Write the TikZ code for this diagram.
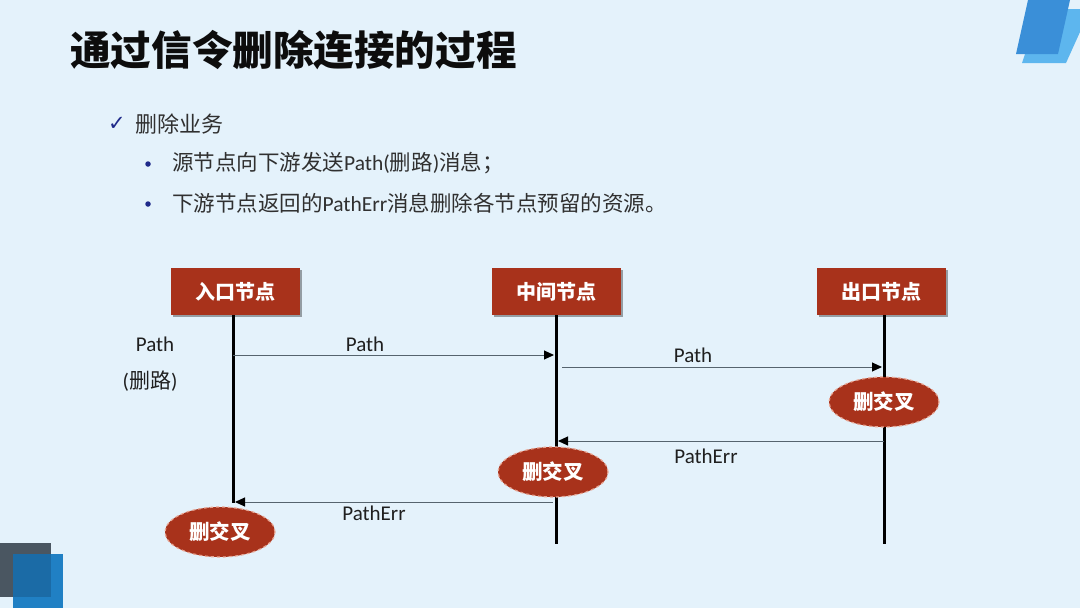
\documentclass[tikz,border=0pt]{standalone}
\usepackage{fontspec}
\setmainfont{Carlito}
\newfontfamily\cjk{Noto Sans CJK SC}
\newfontfamily\sym{DejaVu Sans}
\usetikzlibrary{shapes.geometric,arrows.meta,shadows}
\definecolor{bgblue}{HTML}{E4F2FB}
\definecolor{nodered}{HTML}{A8321B}
\definecolor{edgepink}{HTML}{E9A592}
\definecolor{msggray}{HTML}{56646E}
\definecolor{bulletblue}{HTML}{1F2A8A}
\definecolor{bodytext}{HTML}{303030}
\definecolor{decodark}{HTML}{3A8FD8}
\definecolor{decolight}{HTML}{5DB6EE}
\definecolor{decogray}{HTML}{4A5661}
\definecolor{decoblue}{HTML}{2080C4}
\definecolor{decoover}{HTML}{1B6BA6}
\begin{document}
\begin{tikzpicture}[x=1pt,y=-1pt,
  hdr/.style={fill=nodered, text=white, minimum width=129pt, minimum height=47pt, inner sep=0pt,
    font=\cjk\bfseries\fontsize{20}{24}\selectfont,
    drop shadow={shadow xshift=2pt,shadow yshift=-2pt,opacity=0.35,fill=black}},
  del/.style={ellipse, fill=nodered, draw=edgepink, dashed, line width=1.2pt, text=white,
    minimum width=110pt, minimum height=50pt, inner sep=0pt,
    font=\cjk\bfseries\fontsize{20.5}{24}\selectfont},
  life/.style={line width=3pt, draw=black},
  msg/.style={draw=msggray, line width=1pt, -{Triangle[length=10pt,width=9pt,color=black]}},
  lbl/.style={font=\fontsize{21}{25}\selectfont, text=black!88, inner sep=0pt},
  body/.style={anchor=west, text=bodytext, inner sep=0pt},
  dot/.style={circle, fill=bulletblue, inner sep=0pt, minimum size=5.5pt}]
\useasboundingbox (0,0) rectangle (1080,608);
\fill[bgblue] (0,0) rectangle (1080,608);
% decorations
\fill[decolight] (1040,9) -- (1080,9) -- (1080,32) -- (1066,63) -- (1022,63) -- cycle;
\fill[decodark] (1028,0) -- (1070,0) -- (1058,54) -- (1016,54) -- cycle;
\fill[decogray] (0,543) rectangle (51,597);
\fill[decoblue] (13,554) rectangle (63,608);
\fill[decoover] (13,554) rectangle (51,597);
% title
\node[anchor=west, inner sep=0pt, text=black!95, font=\cjk\bfseries\fontsize{40.6}{48}\selectfont] (title) at (70,50) {通过信令删除连接的过程};
% bullets
\node[text=bulletblue, inner sep=0pt, font=\sym\bfseries\fontsize{21}{24}\selectfont] (chk) at (117,124) {✓};
\node[body, font=\cjk\fontsize{22}{26}\selectfont] (b0) at (135,124) {删除业务};
\node[dot] (d1) at (148,164) {};
\node[body, font=\fontsize{21.5}{26}\selectfont] (b1) at (172,163) {{\cjk 源节点向下游发送}Path({\cjk 删路}){\cjk 消息；}};
\node[dot] (d2) at (148,204) {};
\node[body, font=\fontsize{21.5}{26}\selectfont] (b2) at (172,203) {{\cjk 下游节点返回的}PathErr{\cjk 消息删除各节点预留的资源。}};
% header nodes
\node[hdr] (n1) at (235.5,291.5) {入口节点};
\node[hdr] (n2) at (556,291.5) {中间节点};
\node[hdr] (n3) at (881.5,291.5) {出口节点};
% lifeline ends
\coordinate (e1) at (233,503);
\coordinate (e2) at (556,544);
\coordinate (e3) at (884,544);
\draw[life] (n1.south -| e1) -- (e1);
\draw[life] (n2.south -| e2) -- (e2);
\draw[life] (n3.south -| e3) -- (e3);
% message end points
\coordinate (m1s) at (233,355);
\coordinate (m1e) at (554,355);
\coordinate (m2s) at (562,367);
\coordinate (m2e) at (882,367);
\coordinate (m3s) at (884,441);
\coordinate (m3e) at (558,441);
\coordinate (m4s) at (553,502);
\coordinate (m4e) at (235,502);
\draw[msg] (m1s) -- (m1e);
\draw[msg] (m2s) -- (m2e);
\draw[msg] (m3s) -- (m3e);
\draw[msg] (m4s) -- (m4e);
% labels
\node[lbl] (l1) at (365,344) {Path};
\node[lbl] (l2) at (693,355) {Path};
\node[lbl] (l3) at (706,456) {PathErr};
\node[lbl] (l4) at (374,513) {PathErr};
\node[lbl] (l5) at (155,344) {Path};
\node[lbl] (l6) at (150,381) {({\cjk 删路})};
% delete ellipses
\node[del] (x3) at (884,402) {删交叉};
\node[del] (x2) at (553,472) {删交叉};
\node[del] (x1) at (220,532) {删交叉};
\end{tikzpicture}
\end{document}
